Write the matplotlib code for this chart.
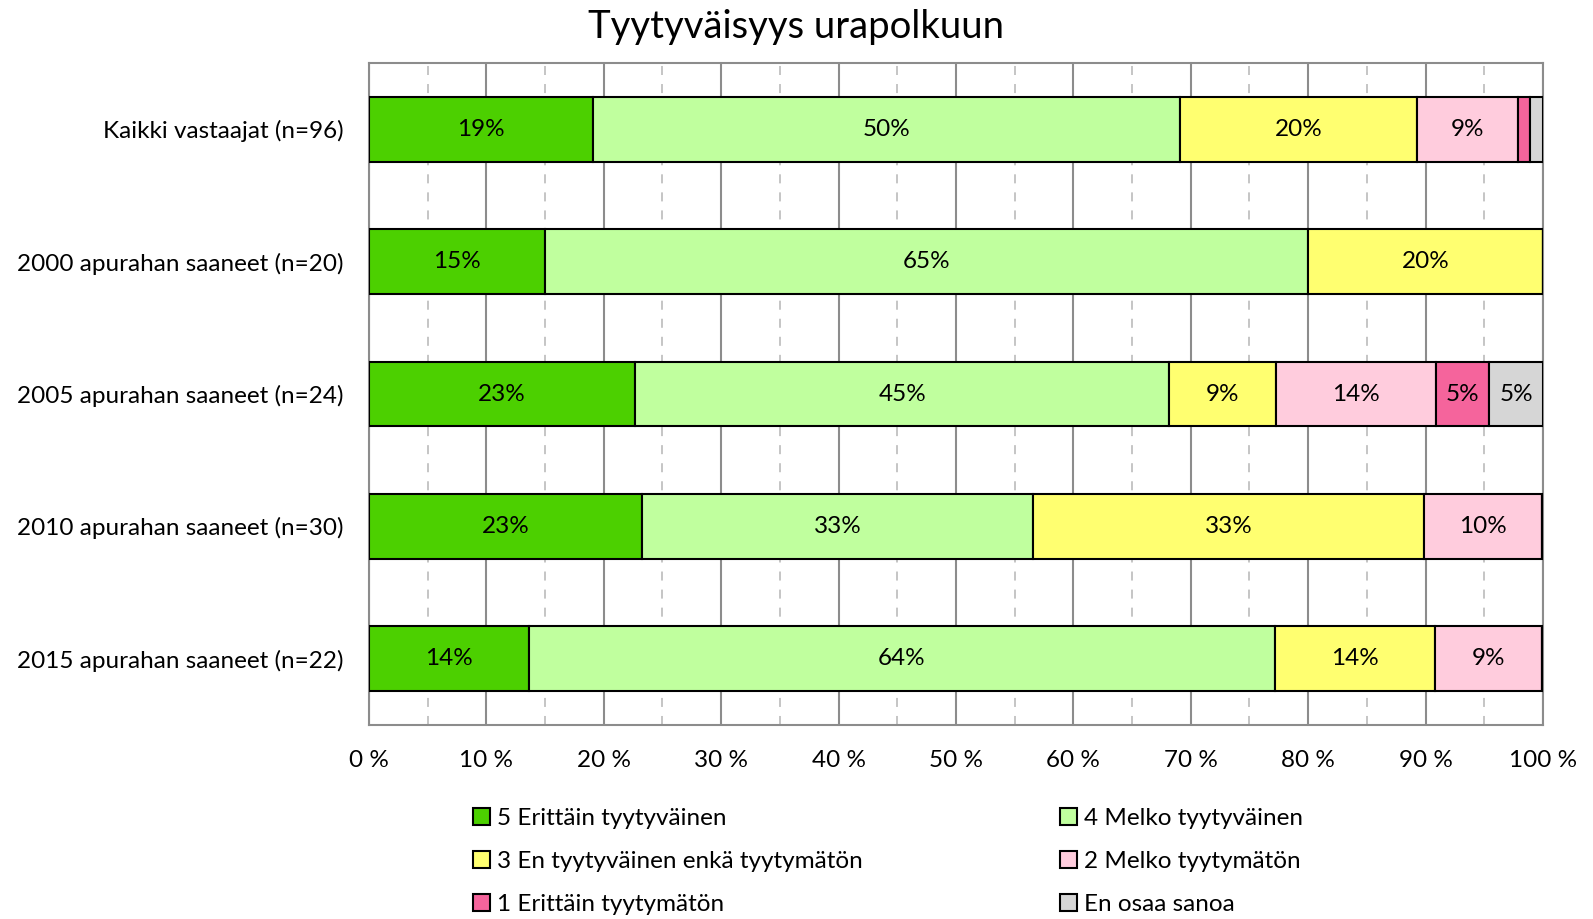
import matplotlib
matplotlib.use("Agg")
from matplotlib import pyplot as plt
from matplotlib.patches import Patch
from matplotlib.ticker import MultipleLocator, FuncFormatter

plt.rcParams['font.family'] = ['Lato', 'DejaVu Sans']

# groups and answer shares (%)
groups = ["Kaikki vastaajat (n=96)", "2000 apurahan saaneet (n=20)",
          "2005 apurahan saaneet (n=24)", "2010 apurahan saaneet (n=30)",
          "2015 apurahan saaneet (n=22)"]
answers = ["5 Erittäin tyytyväinen", "4 Melko tyytyväinen",
           "3 En tyytyväinen enkä tyytymätön", "2 Melko tyytymätön",
           "1 Erittäin tyytymätön", "En osaa sanoa"]
very_satisfied = [19.1, 15.0, 22.7, 23.3, 13.6]
fairly_satisfied = [50.0, 65.0, 45.45, 33.3, 63.6]
neutral = [20.2, 20.0, 9.1, 33.3, 13.6]
fairly_unsatisfied = [8.6, 0.0, 13.6, 10.0, 9.1]
very_unsatisfied = [1.0, 0.0, 4.55, 0.0, 0.0]
dont_know = [1.1, 0.0, 4.6, 0.0, 0.0]
series = [very_satisfied, fairly_satisfied, neutral, fairly_unsatisfied,
          very_unsatisfied, dont_know]
colors = ["#4CD000", "#C0FF9E", "#FFFF70", "#FFCCDD", "#F5649C", "#D6D6D6"]

FS = 17.5

fig = plt.figure(figsize=(15.93, 9.19), dpi=100)
ax = fig.add_axes([0.2316, 0.2111, 0.7370, 0.7203])

y = list(range(len(groups)))
left = [0.0] * len(groups)
for vals, col, name in zip(series, colors, answers):
    bars = ax.barh(y, vals, left=left, height=0.49, color=col,
                   edgecolor="black", linewidth=1.5, label=name, zorder=3)
    labels = [f"{v:.0f}%" if v >= 3 else "" for v in vals]
    ax.bar_label(bars, labels=labels, label_type="center", fontsize=FS)
    left = [a + b for a, b in zip(left, vals)]

ax.set_xlim(0, 100)
ax.set_ylim(len(groups) - 0.5, -0.5)
ax.set_yticks(y)
ax.set_yticklabels(groups, fontsize=FS)
ax.xaxis.set_major_locator(MultipleLocator(10))
ax.xaxis.set_minor_locator(MultipleLocator(5))
ax.xaxis.set_major_formatter(FuncFormatter(lambda v, p: f"{v:.0f} %"))
ax.tick_params(axis="x", labelsize=FS, pad=18, length=0, which="both")
ax.tick_params(axis="y", length=0, pad=18)
ax.grid(axis="x", which="major", color="#8C8C8C", linewidth=1.5, zorder=0)
ax.grid(axis="x", which="minor", color="#C0C0C0", linewidth=1.3,
        linestyle=(0, (5, 5)), zorder=0)
for s in ax.spines.values():
    s.set_color("#8C8C8C")
    s.set_linewidth(1.5)

fig.suptitle("Tyytyväisyys urapolkuun", fontsize=27.5, y=0.99)

handles = [Patch(facecolor=c, edgecolor="black", linewidth=1.5) for c in colors]
leg_kw = dict(frameon=False, fontsize=FS, handlelength=0.7, handleheight=0.7,
              handletextpad=0.3, labelspacing=0.9, borderpad=0,
              loc="upper left")
fig.legend([handles[i] for i in (0, 2, 4)], [answers[i] for i in (0, 2, 4)],
           bbox_to_anchor=(0.289, 0.134), **leg_kw)
fig.legend([handles[i] for i in (1, 3, 5)], [answers[i] for i in (1, 3, 5)],
           bbox_to_anchor=(0.6577, 0.134), **leg_kw)

fig.savefig("out.png", dpi=100)
